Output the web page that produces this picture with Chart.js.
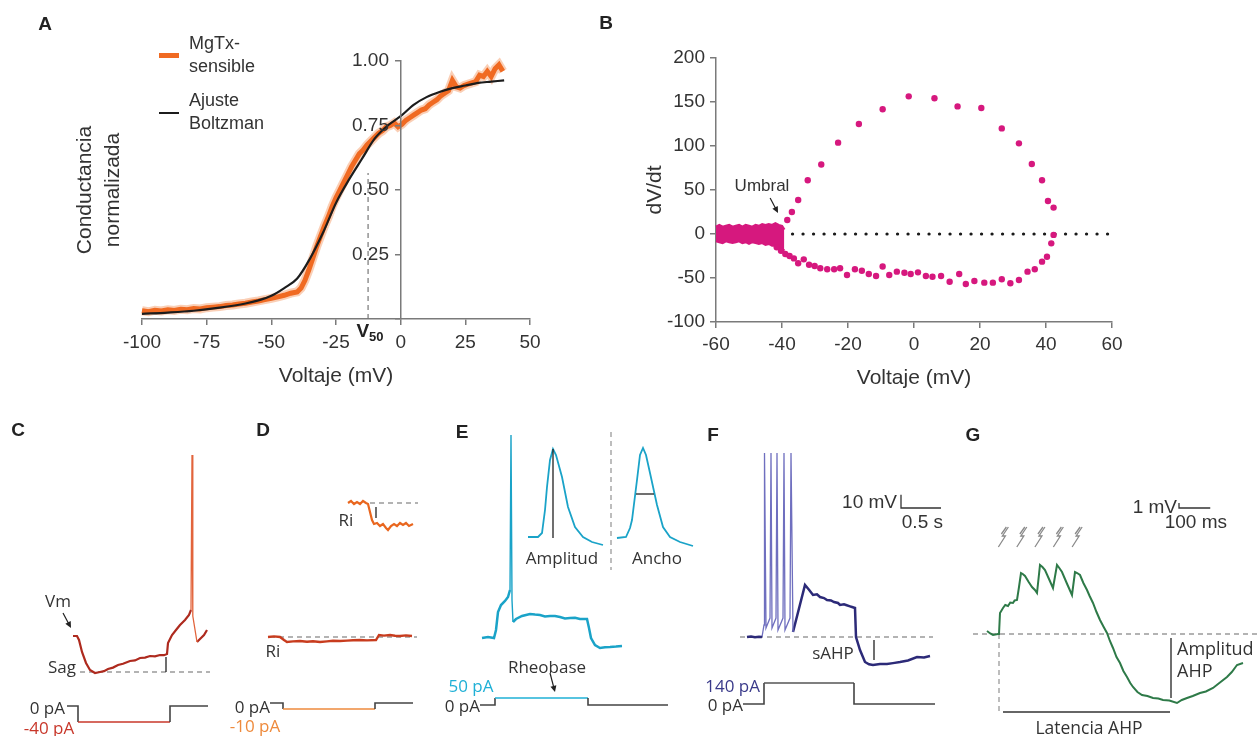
<!DOCTYPE html>
<html>
<head>
<meta charset="utf-8">
<script src="https://cdn.jsdelivr.net/npm/chart.js@4.4.1/dist/chart.umd.min.js"></script>
<style>
  body { margin: 0; background: #fff; width: 1257px; height: 736px; position: relative; overflow: hidden; }
  canvas { position: absolute; left: 0; top: 0; }
  .t { position: absolute; white-space: nowrap; line-height: 1; z-index: 5; }
</style>
</head>
<body>
<script>
// ---- A: conductance vs voltage ----
const fitV = [-100, -90, -80, -70, -60, -55, -50, -45, -40, -35, -30, -25, -20, -15, -10, -5, 0, 5, 10, 15, 20, 25, 30, 35, 40];
const fitG = [0.02, 0.025, 0.032, 0.044, 0.06, 0.072, 0.09, 0.12, 0.157, 0.235, 0.335, 0.45, 0.54, 0.62, 0.70, 0.75, 0.786, 0.83, 0.86, 0.88, 0.895, 0.905, 0.915, 0.92, 0.925];
const mgV = [-100, -97.5, -95, -92.5, -90, -87.5, -85, -82.5, -80, -77.5, -75, -72.5, -70, -67.5, -65, -62.5, -60, -57.5, -55, -52.5, -50, -47.5, -45, -42.5, -40, -38.5, -37, -35.5, -34, -32.5, -31, -29.5, -28, -26.5, -25, -23.5, -22, -20.5, -19, -17.5, -16, -14.5, -13, -11.5, -10, -8.5, -7, -5.5, -4, -2.5, -1, 0.5, 2, 3.5, 5, 6.5, 8, 9.5, 11, 12.5, 14, 15.5, 17, 18.5, 20, 21.5, 23, 24.5, 26, 27.5, 29, 30.5, 32, 33.5, 35, 36.5, 38, 39.5];
const mgG = [0.032, 0.028, 0.034, 0.031, 0.036, 0.033, 0.038, 0.036, 0.041, 0.039, 0.044, 0.046, 0.048, 0.052, 0.054, 0.058, 0.061, 0.066, 0.07, 0.075, 0.08, 0.086, 0.092, 0.1, 0.105, 0.12, 0.15, 0.19, 0.235, 0.28, 0.32, 0.36, 0.395, 0.435, 0.47, 0.5, 0.53, 0.56, 0.59, 0.615, 0.64, 0.655, 0.675, 0.69, 0.705, 0.72, 0.73, 0.745, 0.75, 0.76, 0.745, 0.755, 0.77, 0.78, 0.79, 0.80, 0.81, 0.815, 0.83, 0.84, 0.85, 0.865, 0.875, 0.885, 0.925, 0.90, 0.895, 0.905, 0.91, 0.915, 0.92, 0.945, 0.94, 0.96, 0.94, 0.97, 0.985, 0.96];
const v50X = [-12.6, -12.6];
const v50Y = [0, 0.566];

// ---- B: phase plot ----
const apV = [-38.4, -37.0, -35.1, -32.2, -28.1, -23.0, -16.7, -9.5, -1.6, 6.2, 13.2, 20.4, 26.6, 31.8, 35.7, 38.8, 40.6, 42.3, 42.3, 41.6, 40.3, 38.8, 36.6, 34.4, 31.8, 29.2, 26.6, 23.9, 21.3, 18.3, 15.7, 13.7, 10.8, 8.2, 5.6, 3.6, 1.2, -1.0, -2.9, -5.2, -7.5, -9.5, -11.5, -13.7, -15.8, -17.9, -20.3, -22.4, -24.2, -26.3, -28.4, -30.1, -31.8, -33.4, -35.1, -36.4, -37.7, -39.0, -40.3, -41.6];
const apDvdt = [15.9, 25, 38.6, 61, 79, 103.8, 125, 141.7, 156.4, 154.2, 145, 143.2, 120, 103, 79.5, 61, 37.5, 30, -1, -10.6, -25.8, -31.4, -40, -42.8, -52.3, -56, -51.5, -55.3, -55.3, -53.4, -56.8, -45.5, -54.2, -47.7, -48.5, -47.7, -43.6, -45.5, -44, -42.8, -46.6, -37, -47.7, -45.5, -41.7, -40, -46.6, -39, -40, -40, -39, -36.4, -35, -28.8, -33.3, -27.7, -25, -22.7, -19, -15];
// resting cloud: upper and lower edge of the dense band of points
const restV = [-60, -59, -58, -57, -56, -55, -54, -53, -52, -51, -50, -49, -48, -47, -46, -45, -44, -43, -42, -41, -40, -39.3];
const restUp = [8, 10, 8, 9, 10, 8, 9, 10, 8, 10, 9, 8, 10, 9, 11, 10, 11, 10, 12, 10, 9, 5];
const restLow = [-8, -9, -10, -8, -9, -10, -9, -8, -10, -9, -11, -9, -10, -11, -10, -12, -11, -13, -13, -15, -17, -19];
const zeroV = [-40, 60];
const zeroD = [0, 0];

// ---- C: sag (ms, mV, pA) ----
const cT = [-50, -10, 10, 40, 80, 120, 170, 220, 260, 300, 350, 400, 450, 520, 570, 620, 670, 720, 770, 820, 860, 890, 900, 940, 980, 1020, 1070, 1110, 1130];
const cV = [-65, -65, -67, -73, -78.5, -82, -83.5, -83, -82.6, -81.5, -80.8, -79.5, -78.9, -77.5, -77.2, -76, -75.8, -75, -75.2, -74.5, -74.6, -74, -68.5, -64.5, -62, -59.5, -57, -54.5, -52];
const cSpikeT = [1130, 1140, 1148, 1190];
const cSpikeV = [-52, 25.5, -55, -68];
const cPostT = [1190, 1230, 1260, 1290];
const cPostV = [-68, -66, -64.5, -62];
const cSagT = [20, 1320];
const cSagV = [-83, -83];
const cMarkT = [880, 880];
const cMarkV = [-75.5, -83];
const cStimT = [-110, 0, 0, 920, 920, 1300];
const cStimI = [0, 0, -40, -40, 0, 0];

// ---- D: input resistance ----
const dT = [-150, -90, -30, 10, 40, 100, 170, 240, 300, 370, 440, 500, 570, 640, 700, 770, 840, 930, 960, 1010, 1070, 1120, 1170, 1230, 1290];
const dV = [-65, -64.7, -65, -66.5, -67.5, -67.2, -67, -67.4, -67.1, -67.5, -67.2, -66.9, -67, -66.8, -66.6, -66.5, -66.7, -66.5, -64, -64.3, -64, -64.4, -64.5, -64.2, -64.5];
const dBaseT = [-130, 1340];
const dBaseV = [-65, -65];
const dStimT = [-130, 0, 0, 920, 920, 1300];
const dStimI = [0, 0, -10, -10, 0, 0];
const dInsetT = [-40, -34, -28, -22, -16, -10, -4, 0, 4, 8, 12, 18, 24, 30, 36, 40, 46, 52, 58, 64, 70, 76, 82, 90];
const dInsetV = [-65, -64.8, -65.1, -64.9, -65.1, -64.8, -65, -65.1, -65.9, -66.7, -67.1, -67, -67.3, -67.1, -67.5, -67.7, -67.3, -67.1, -67.3, -67, -67.2, -67, -67.3, -67.1];
const dInsetBaseT = [4, 100];
const dInsetBaseV = [-65, -65];
const dInsetMarkT = [16, 16];
const dInsetMarkV = [-65.4, -66.5];

// ---- E: rheobase ----
const eT = [-130, -70, -10, 10, 30, 60, 100, 130, 150];
const eV = [-65, -64.5, -65, -61, -52, -48.5, -46.5, -44.5, -41];
const eSpikeT = [150, 160, 170, 180];
const eSpikeV = [-41, 36.5, -46, -57];
const ePostT = [180, 210, 270, 300, 350, 400, 450, 500, 550, 600, 650, 700, 750, 800, 850, 920, 940, 960, 1000, 1050, 1100, 1150, 1210, 1270];
const ePostV = [-57, -55.5, -54, -53.6, -53, -53.3, -53.5, -54.2, -54, -54, -54.5, -55.2, -55, -54.9, -55.5, -55.5, -60, -65, -68.5, -70, -69.6, -69.5, -69.3, -69];
const eSepT = [1160, 1160];
const eSepV = [38, -31];
const eStimT = [-150, 0, 0, 930, 930, 1730];
const eStimI = [0, 0, 50, 50, 0, 0];
const ampT = [-2.5, -1.5, -1.1, -0.8, -0.6, -0.3, 0, 0.3, 0.9, 1.5, 2.2, 3.0, 3.9, 5.0];
const ampV = [-58.5, -58.5, -56.5, -45, -33.5, -20, -14.5, -17.5, -28.5, -43.5, -53.5, -58.5, -61, -62.5];
const ampMarkT = [0, 0];
const ampMarkV = [-14.5, -59];
const widthT = [-2.5, -1.6, -1.2, -1.0, -0.5, -0.2, 0.1, 0.4, 0.8, 1.5, 2.1, 2.8, 3.8, 5.1];
const widthV = [-59, -58.5, -54, -50, -30, -17.5, -14, -17.5, -26.5, -42.5, -53.5, -58.5, -61, -63];
const widthMarkT = [-0.6, 1.2];
const widthMarkV = [-37, -37];

// ---- F: sAHP ----
const fBaseT = [-212.5, -162.5, -112.5, -62.5, -25];
const fBaseV = [-65, -64.6, -65.2, -64.8, -65];
const fSpikeT = [-25, 0, 6.25, 25, 75, 87.5, 100, 150, 162.5, 175, 237.5, 250, 262.5, 325, 337.5, 362.5];
const fSpikeV = [-65, -56, 73, -58.25, -50.75, 73, -58.25, -50.75, 73, -59.75, -50.75, 73, -59.75, -50.75, 73, -61.25];
const fBodyT = [362.5, 512.5, 562.5, 612.5, 662.5, 700, 750, 787.5, 837.5, 875, 925, 950, 1000, 1025, 1075, 1100, 1137.5, 1150, 1200, 1262.5, 1312.5, 1362.5, 1450, 1537.5, 1612.5, 1700, 1800, 1912.5, 2000, 2075];
const fBodyV = [-61.25, -26, -29.5, -33.5, -33, -35, -35.8, -37.25, -37.6, -38.75, -39.5, -41, -40.5, -41, -42, -42.5, -43.25, -65, -74.75, -83.75, -85.5, -86, -85.2, -85.25, -84.6, -83.75, -82.6, -80, -80.3, -79.25];
const fRestT = [-300, 2112.5];
const fRestV = [-65, -65];
const fMarkT = [1375, 1375];
const fMarkV = [-67.25, -82.25];
const fBarT = [1712.5, 1712.5, 2212.5];
const fBarV = [41.75, 31.75, 31.75];
const fStimT = [-262.5, 0, 0, 1125, 1125, 2137.5];
const fStimI = [0, 0, 140, 140, 0, 0];

// ---- G: synaptic AHP ----
const gT = [-38.4, -28, -19.2, -3.2, 0, 3.2, 12.8, 20, 28.8, 36, 44.8, 50, 57.6, 64, 70.4, 76, 83.2, 95, 105.6, 115, 121.6, 131.2, 139, 147.2, 160, 172.8, 185.6, 193, 201.6, 218, 233.6, 243.2, 250, 259.2, 270, 281.6, 290, 300.8, 312, 323.2, 335, 345.6, 355, 364.8, 376, 387.2, 398, 409.6, 420, 428.8, 443, 457.6, 475, 492.8, 510, 524.8, 545, 569.6, 585, 601.6, 620, 643.2, 662, 684.8, 705, 729.6, 745, 761.6, 780.8];
const gV = [-64.4, -64.9, -65.2, -65, -65, -60.8, -59.8, -59.2, -59.4, -58.7, -58.8, -58.3, -58.2, -55.6, -52.8, -53, -53.4, -54.6, -55.6, -56.2, -56.8, -51.2, -51.6, -52.2, -54, -55.8, -51.2, -51.8, -52.6, -55, -57.2, -52.6, -52.8, -53.2, -54.8, -56.2, -57.4, -58.8, -60.6, -62.2, -63.6, -64.8, -66.4, -67.8, -69.6, -70.8, -72.4, -73.6, -74.8, -75.6, -76.6, -77.2, -77.4, -77.8, -77.9, -78.2, -78.3, -78.8, -78.2, -77.8, -77.4, -76.8, -76.5, -75.8, -74.8, -73.6, -72.6, -71.2, -70.8];
const gRestT = [-83.2, 825.6];
const gRestV = [-65, -65];
const gOnsetT = [0, 0];
const gOnsetV = [-65, -80.8];
const gLatT = [12.8, 547.2];
const gLatV = [-80.6, -80.6];
const gAmpT = [550.4, 550.4];
const gAmpV = [-65.8, -77.8];
const gBarT = [576, 576, 676];
const gBarV = [-38.8, -39.8, -39.8];
const gStimTimes = [14, 73, 131, 190, 250];

Chart.defaults.font.family = '"Liberation Sans", Arial, sans-serif';
Chart.defaults.color = '#333';

const GRAY = '#444';
const DASH = '#9a9a9a';
const PINK = '#d6187e';

function pts(xs, ys) { return xs.map((x, i) => ({ x: x, y: ys[i] })); }

function line(xs, ys, color, width, extra) {
  return Object.assign({ data: pts(xs, ys), borderColor: color, borderWidth: width, pointRadius: 0, fill: false, tension: 0, clip: false }, extra || {});
}

function dashed(xs, ys) { return line(xs, ys, DASH, 1.3, { borderDash: [5, 4] }); }

function stim(xs, ys, color) {
  return line(xs, ys, GRAY, 1.6, {
    yAxisID: 'y2',
    segment: { borderColor: ctx => (ctx.p0.parsed.y !== 0 && ctx.p1.parsed.y !== 0) ? color : GRAY }
  });
}

function makeCanvas() {
  const c = document.createElement('canvas');
  c.width = 1257; c.height = 736;
  document.body.appendChild(c);
  return c;
}

// arrows and stimulus marks, drawn in data units
const marksPlugin = {
  id: 'marks',
  afterDatasetsDraw(chart, args, opts) {
    const ctx = chart.ctx, xs = chart.scales.x;
    (opts.arrows || []).forEach(a => {
      const ys = chart.scales[a.axis || 'y'];
      const x1 = xs.getPixelForValue(a.from[0]), y1 = ys.getPixelForValue(a.from[1]);
      const x2 = xs.getPixelForValue(a.to[0]), y2 = ys.getPixelForValue(a.to[1]);
      const ang = Math.atan2(y2 - y1, x2 - x1);
      ctx.save();
      ctx.strokeStyle = ctx.fillStyle = '#222';
      ctx.lineWidth = 1.2;
      ctx.beginPath();
      ctx.moveTo(x1, y1);
      ctx.lineTo(x2 - 4 * Math.cos(ang), y2 - 4 * Math.sin(ang));
      ctx.stroke();
      ctx.beginPath();
      ctx.moveTo(x2, y2);
      ctx.lineTo(x2 - 7 * Math.cos(ang - 0.45), y2 - 7 * Math.sin(ang - 0.45));
      ctx.lineTo(x2 - 7 * Math.cos(ang + 0.45), y2 - 7 * Math.sin(ang + 0.45));
      ctx.closePath();
      ctx.fill();
      ctx.restore();
    });
    if (opts.bolts) {
      const ys = chart.scales.y;
      ctx.save();
      ctx.strokeStyle = '#8a8a8a';
      ctx.lineWidth = 1.3;
      opts.bolts.times.forEach(t => {
        const px = xs.getPixelForValue(t), py = ys.getPixelForValue(opts.bolts.y);
        ctx.beginPath();
        ctx.moveTo(px + 5, py - 10);
        ctx.lineTo(px - 1, py - 1);
        ctx.lineTo(px + 2, py - 1);
        ctx.lineTo(px - 5, py + 10);
        ctx.moveTo(px + 3, py - 10);
        ctx.lineTo(px - 2, py - 3);
        ctx.stroke();
      });
      ctx.restore();
    }
  }
};
Chart.register(marksPlugin);

// box = [left, top, right, bottom] of the plot area on the page
function traceChart(box, xr, yr, y2r, datasets, marks) {
  return new Chart(makeCanvas(), {
    type: 'line',
    data: { datasets: datasets },
    options: {
      responsive: false, animation: false, events: [],
      layout: { padding: { left: box[0], top: box[1], right: 1257 - box[2], bottom: 736 - box[3] } },
      plugins: { legend: { display: false }, tooltip: { enabled: false }, marks: marks || {} },
      scales: {
        x: { type: 'linear', display: false, min: xr[0], max: xr[1] },
        y: { display: false, min: yr[0], max: yr[1] },
        y2: { display: false, min: y2r[0], max: y2r[1] }
      }
    }
  });
}

const axisGrid = { display: true, drawOnChartArea: false, drawTicks: true, tickLength: 6, color: '#7a7a7a', lineWidth: 1.5 };
const axisBorder = { display: true, color: '#7a7a7a', width: 1.5 };

// ---- panel A ----
new Chart(makeCanvas(), {
  type: 'line',
  data: {
    datasets: [
      line(fitV, fitG, '#1c1c1c', 2.2, { label: 'Ajuste Boltzman', cubicInterpolationMode: 'monotone' }),
      line(mgV, mgG, '#f06a22', 5, { label: 'MgTx-sensible' }),
      line(mgV, mgG, 'rgba(246,160,110,0.5)', 9),
      line(v50X, v50Y, '#777', 1.2, { borderDash: [5, 4] })
    ]
  },
  options: {
    responsive: false, animation: false, events: [],
    layout: { padding: { left: 72, top: 61, right: 727, bottom: 347 } },
    plugins: { legend: { display: false }, tooltip: { enabled: false } },
    scales: {
      x: {
        type: 'linear', min: -100, max: 50,
        afterFit: s => { s.height = 70; },
        ticks: { stepSize: 25, padding: 6, font: { size: 19 }, color: '#333' },
        grid: axisGrid, border: axisBorder,
        title: { display: true, text: 'Voltaje (mV)', font: { size: 21 }, color: '#333', padding: { top: 0, bottom: 0 } }
      },
      y: { display: false, min: 0, max: 1 },
      yt: {
        position: 'left', min: 0, max: 1,
        afterFit: s => { s.width = 70; },
        ticks: { display: false }, grid: { display: false, drawTicks: false }, border: { display: false },
        title: { display: true, text: ['Conductancia', 'normalizada'], font: { size: 21, lineHeight: 1.3 }, color: '#333', padding: { top: 0, bottom: 0 } }
      }
    }
  }
});

// A: the y axis crosses at 0 mV; drawn as a second chart whose plot area starts at 0 mV
new Chart(makeCanvas(), {
  type: 'line',
  data: { datasets: [] },
  options: {
    responsive: false, animation: false, events: [],
    layout: { padding: { left: 300, top: 61, right: 727, bottom: 417 } },
    plugins: { legend: { display: false }, tooltip: { enabled: false } },
    scales: {
      x: { type: 'linear', display: false, min: 0, max: 50 },
      y: {
        position: 'left', min: 0, max: 1,
        afterFit: s => { s.width = 101; },
        ticks: { stepSize: 0.25, padding: 6, font: { size: 19 }, color: '#333', callback: v => v === 0 ? '' : v.toFixed(2) },
        grid: axisGrid, border: axisBorder
      }
    }
  }
});

// ---- panel B ----
new Chart(makeCanvas(), {
  type: 'line',
  data: {
    datasets: [
      line(apV, apDvdt, PINK, 0, { showLine: false, pointRadius: 3.2, pointBackgroundColor: PINK, pointBorderWidth: 0 }),
      line(restV, restUp, PINK, 2.5, { fill: '+1', backgroundColor: PINK }),
      line(restV, restLow, PINK, 2.5),
      line(zeroV, zeroD, '#1a1a1a', 3.2, { borderDash: [0.1, 10.4], borderCapStyle: 'round' })
    ]
  },
  options: {
    responsive: false, animation: false, events: [],
    layout: { padding: { left: 630, top: 58, right: 145, bottom: 344 } },
    plugins: {
      legend: { display: false }, tooltip: { enabled: false },
      marks: { arrows: [{ from: [-43.6, 40.9], to: [-41.2, 23.9] }] }
    },
    scales: {
      x: {
        type: 'linear', min: -60, max: 60,
        afterFit: s => { s.height = 70; },
        ticks: { stepSize: 20, padding: 5, font: { size: 19 }, color: '#333' },
        grid: axisGrid, border: axisBorder,
        title: { display: true, text: 'Voltaje (mV)', font: { size: 21 }, color: '#333', padding: { top: 0, bottom: 1 } }
      },
      y: {
        min: -100, max: 200,
        afterFit: s => { s.width = 86; },
        ticks: { stepSize: 50, padding: 5, font: { size: 19 }, color: '#333' },
        grid: axisGrid, border: axisBorder,
        title: { display: true, text: 'dV/dt', font: { size: 21 }, color: '#333', padding: { top: 13, bottom: 0 } }
      }
    }
  }
});

// ---- panel C ----
traceChart([60, 450, 215, 730], [-180, 1370], [-112, 28], [-60, 640], [
  line(cT, cV, '#ae2a1e', 2.2),
  line(cSpikeT, cSpikeV, '#e2643c', 1.3),
  line(cPostT, cPostV, '#ae2a1e', 2.2),
  line(cMarkT, cMarkV, '#222', 1.3),
  dashed(cSagT, cSagV),
  stim(cStimT, cStimI, '#c8372a')
], { arrows: [{ from: [-150, -53.5], to: [-70, -61] }] });

// ---- panel D ----
traceChart([260, 490, 420, 730], [-230, 1370], [-111.5, 8.5], [-45, 355], [
  line(dT, dV, '#c83c1e', 2.4),
  dashed(dBaseT, dBaseV),
  stim(dStimT, dStimI, '#ee8a3c')
]);
traceChart([340, 495, 420, 535], [-56, 104], [-68.2, -64.2], [0, 1], [
  line(dInsetT, dInsetV, '#e9661e', 2.2),
  line(dInsetMarkT, dInsetMarkV, '#222', 1.3),
  dashed(dInsetBaseT, dInsetBaseV)
]);

// ---- panel E ----
traceChart([470, 430, 680, 710], [-250, 1850], [-101, 39], [-35.7, 1964.3], [
  line(eT, eV, '#1aa3c8', 2.5),
  line(eSpikeT, eSpikeV, '#1aa3c8', 1.4),
  line(ePostT, ePostV, '#1aa3c8', 2.5),
  dashed(eSepT, eSepV),
  stim(eStimT, eStimI, '#1fb0d6')
], { arrows: [{ from: [550, 228.6], to: [600, 92.9], axis: 'y2' }] });
traceChart([520, 440, 610, 550], [-3.3, 5.7], [-65, -10], [0, 1], [
  line(ampMarkT, ampMarkV, '#222', 1.3),
  line(ampT, ampV, '#1aa3c8', 1.8)
]);
traceChart([612, 440, 700, 550], [-3.0, 5.8], [-65, -10], [0, 1], [
  line(widthMarkT, widthMarkV, '#222', 1.3),
  line(widthT, widthV, '#1aa3c8', 1.8)
]);

// ---- panel F ----
traceChart([735, 445, 945, 710], [-362.5, 2262.5], [-119.75, 79], [-40, 1726.7], [
  line(fBaseT, fBaseV, '#2c2a78', 2.5),
  line(fSpikeT, fSpikeV, '#6f6fbf', 1.3),
  line(fBodyT, fBodyV, '#2c2a78', 2.5),
  line(fMarkT, fMarkV, '#222', 1.3),
  line(fBarT, fBarV, '#333', 1.3),
  dashed(fRestT, fRestV),
  stim(fStimT, fStimI, '#555')
]);

// ---- panel G ----
traceChart([965, 490, 1257, 720], [-108.8, 825.6], [-82.2, -36.2], [0, 1], [
  line(gT, gV, '#2e7a48', 2),
  line(gLatT, gLatV, '#333', 1.4),
  line(gAmpT, gAmpV, '#333', 1.4),
  line(gBarT, gBarV, '#333', 1.3),
  dashed(gRestT, gRestV),
  dashed(gOnsetT, gOnsetV)
], { bolts: { times: gStimTimes, y: -45.6 } });

// ---- text ----
const SANS = '"Liberation Sans", Arial, sans-serif';
const HUM = '"Open Sans", "Noto Sans", sans-serif';

function label(html, x, y, o) {
  o = o || {};
  const d = document.createElement('div');
  d.className = 't';
  d.innerHTML = html;
  const ax = o.align === 'left' ? '0' : (o.align === 'right' ? '-100%' : '-50%');
  d.style.left = x + 'px';
  d.style.top = y + 'px';
  d.style.transform = 'translate(' + ax + ',-50%)';
  d.style.font = o.font || ('17px ' + HUM);
  d.style.color = o.color || '#333';
  document.body.appendChild(d);
}

function swatch(x1, x2, y, h, color) {
  const d = document.createElement('div');
  d.style.cssText = 'position:absolute;z-index:5;left:' + x1 + 'px;top:' + (y - h / 2) + 'px;width:' + (x2 - x1) + 'px;height:' + h + 'px;background:' + color;
  document.body.appendChild(d);
}

const LETTER = 'bold 19px ' + SANS;
label('A', 45, 24, { font: LETTER, color: '#222' });
label('B', 606, 23, { font: LETTER, color: '#222' });
label('C', 18, 430, { font: LETTER, color: '#222' });
label('D', 263, 430, { font: LETTER, color: '#222' });
label('E', 462, 432, { font: LETTER, color: '#222' });
label('F', 713, 435, { font: LETTER, color: '#222' });
label('G', 973, 435, { font: LETTER, color: '#222' });

// A legend and V50
swatch(159, 179, 55, 5, '#f06a22');
swatch(159, 179, 113, 2.2, '#1c1c1c');
label('MgTx-', 189, 43, { align: 'left', font: '18px ' + SANS });
label('sensible', 189, 66, { align: 'left', font: '18px ' + SANS });
label('Ajuste', 189, 100, { align: 'left', font: '18px ' + SANS });
label('Boltzman', 189, 123, { align: 'left', font: '18px ' + SANS });
label('V<span style="font-size:13px;position:relative;top:4px">50</span>', 370, 331, { font: 'bold 19px ' + SANS, color: '#222' });

// B
label('Umbral', 762, 186, { font: '17px ' + SANS });

// C
label('Vm', 58, 600);
label('Sag', 62, 666);
label('0 pA', 65, 707, { align: 'right' });
label('-40 pA', 49, 727, { color: '#c8372a' });

// D
label('Ri', 346, 519);
label('Ri', 273, 650);
label('0 pA', 270, 706, { align: 'right' });
label('-10 pA', 255, 725, { color: '#ee8a3c' });

// E
label('Amplitud', 562, 557);
label('Ancho', 657, 557);
label('Rheobase', 547, 666);
label('50 pA', 471, 685, { color: '#1fb0d6' });
label('0 pA', 480, 705, { align: 'right' });

// F
label('10 mV', 897, 502, { align: 'right', font: '19px ' + SANS });
label('0.5 s', 943, 522, { align: 'right', font: '19px ' + SANS });
label('sAHP', 833, 652);
label('140 pA', 760, 685, { align: 'right', color: '#3a3a8a' });
label('0 pA', 743, 704, { align: 'right' });

// G
label('1 mV', 1177, 507, { align: 'right', font: '19px ' + SANS });
label('100 ms', 1227, 522, { align: 'right', font: '19px ' + SANS });
label('Amplitud', 1177, 648, { align: 'left', font: '18px ' + HUM });
label('AHP', 1177, 670, { align: 'left', font: '18px ' + HUM });
label('Latencia AHP', 1089, 727, { font: '17.5px ' + HUM });
</script>
</body>
</html>
